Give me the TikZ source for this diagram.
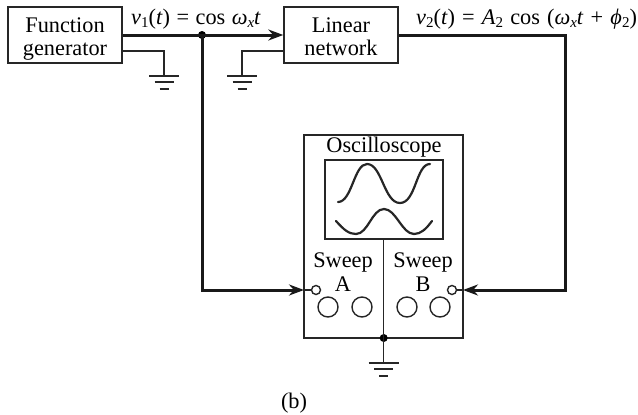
\documentclass[tikz,border=0pt]{standalone}
\usepackage{fontspec}
\setmainfont{Liberation Serif}
\usetikzlibrary{positioning,calc,arrows.meta}

\newcommand{\lowidx}[1]{\raisebox{-0.3ex}{\fontsize{15}{15}\selectfont #1}}

\tikzset{
  block/.style={draw=black!85, line width=1.4pt, inner sep=0pt},
  thin wire/.style={draw=black!85, line width=1.4pt},
  thick wire/.style={draw=black!90, line width=3pt},
  knob/.style={draw=black!85, line width=1.4pt, circle, minimum size=20pt, inner sep=0pt},
  port/.style={draw=black!85, line width=1.4pt, circle, minimum size=9pt, inner sep=0pt},
  dot/.style={fill=black, circle, minimum size=8pt, inner sep=0pt},
  trace/.style={draw=black!85, line width=2.2pt, line cap=round},
  tip/.style={-{Stealth[length=15pt,width=11pt]}},
  ground/.pic={
    \draw[black!85, line width=2.2pt] (-15,0) -- (15,0);
    \draw[black!85, line width=2pt] (-9.5,6) -- (9.5,6);
    \draw[black!85, line width=2pt] (-4.5,12.5) -- (4.5,12.5);
  }
}

\begin{document}
\begin{tikzpicture}[x=1pt, y=-1pt, font=\fontsize{22.3}{24}\selectfont, every node/.style={align=center}]
  \useasboundingbox (0,0) rectangle (638,415);

  % blocks
  \node[block, minimum width=114pt, minimum height=56pt] (fngen) at (65,35) {};
  \node[block, minimum width=114pt, minimum height=56pt] (network) at (341,35) {};
  \node[block, minimum width=159pt, minimum height=203pt] (scope) at (383.5,236.5) {};
  \node[block, minimum width=118pt, minimum height=79pt] (screen) at (384,199.5) {};

  \node[anchor=base] (fnname) at (65,32) {Function};
  \node[anchor=base] (fnnametwo) at (65,55.3) {generator};
  \node[anchor=base] (netname) at (341,32) {Linear};
  \node[anchor=base] (netnametwo) at (341,55.3) {network};
  \node[anchor=base] (title) at (384,152) {Oscilloscope};
  \node[anchor=base] (sweepa) at (343,267) {Sweep};
  \node[anchor=base] (sweepb) at (423,267) {Sweep};
  \node[anchor=base] (labela) at (343,291) {A};
  \node[anchor=base] (labelb) at (423,291) {B};
  \node[anchor=base] (caption) at (294,408) {(b)};

  \node[anchor=base west, inner sep=0pt] (vone) at (131,24) {\spaceskip=0.29em\textit{v}\lowidx{1}(\textit{t}) = cos \textit{ω}\lowidx{\textit{x}}\textit{t}};
  \node[anchor=base west, inner sep=0pt] (vtwo) at (416,24) {\spaceskip=0.32em\textit{v}\lowidx{2}(\textit{t}) = \textit{A}\lowidx{2} cos (\textit{ω}\lowidx{\textit{x}}\textit{t} + \textit{ϕ}\lowidx{2})};

  % scope controls
  \node[port] (porta) at (316,290) {};
  \node[port] (portb) at (452,290) {};
  \node[knob] (knoba) at (328,307) {};
  \node[knob] (knobb) at (362,307) {};
  \node[knob] (knobc) at (407,307) {};
  \node[knob] (knobd) at (440,307) {};

  % wiring
  \node[dot] (split) at (202,35) {};
  \node[dot] (common) at (383.7,338) {};
  \coordinate (fnret) at (122,51);
  \coordinate (netret) at (284,51);
  \coordinate (fngnd) at (164,76);
  \coordinate (netgnd) at (242,76);
  \coordinate (scopegnd) at (383.7,363);
  \coordinate (leftturn) at (202,290);
  \coordinate (rightup) at (565,35);
  \coordinate (rightturn) at (565,290);
  \coordinate (scopein) at (304,290);
  \coordinate (scopeinb) at (463,290);

  \draw[thick wire, tip] (fngen.east) -- (network.west);
  \draw[thick wire, tip, line join=miter] (split.center) -- (leftturn) -- (scopein);
  \draw[thick wire, tip, line join=miter] (network.east) -- (rightup) -- (rightturn) -- (scopeinb);
  \draw[thin wire] (scopein) -- (porta);
  \draw[thin wire] (scopeinb) -- (portb);
  \draw[thin wire] (fnret) -| (fngnd);
  \draw[thin wire] (netret) -| (netgnd);
  \draw[thin wire] (screen.south -| common) -- (common.center);
  \draw[thin wire] (common.center) -- (scopegnd);

  \pic at (fngnd) {ground};
  \pic at (netgnd) {ground};
  \pic at (scopegnd) {ground};

  % traces
  \draw[trace] (338,202) .. controls (352,202) and (354,164) .. (367,164)
    .. controls (382,164) and (384,203) .. (400,203)
    .. controls (416,203) and (416,164) .. (430,164);
  \draw[trace] (336,221) .. controls (344,230) and (349,234) .. (356,234)
    .. controls (368,234) and (372,209) .. (384,209)
    .. controls (396,209) and (402,234) .. (414,234)
    .. controls (421,234) and (426,229) .. (432,221);
\end{tikzpicture}
\end{document}
